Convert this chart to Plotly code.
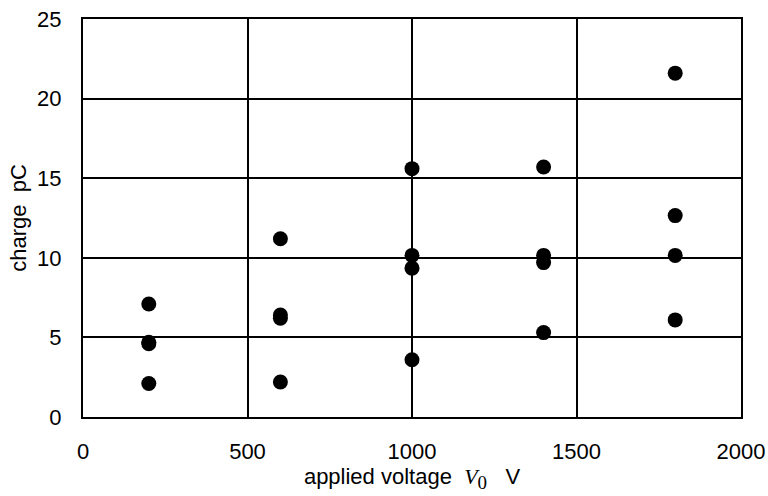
import plotly.graph_objects as go

voltage = [200, 200, 200, 200,
           600, 600, 600, 600,
           1000, 1000, 1000, 1000,
           1400, 1400, 1400, 1400,
           1800, 1800, 1800, 1800]
charge = [7.1, 4.7, 4.6, 2.1,
          11.2, 6.4, 6.2, 2.2,
          15.6, 10.15, 9.35, 3.6,
          15.7, 10.15, 9.7, 5.3,
          21.6, 12.65, 10.15, 6.1]

x_ticks = [0, 500, 1000, 1500, 2000]
y_ticks = [0, 5, 10, 15, 20, 25]

fig = go.Figure()
fig.add_trace(go.Scatter(
    x=voltage, y=charge, mode="markers",
    marker=dict(color="black", size=15, line=dict(width=0)),
    showlegend=False, hoverinfo="skip",
))

font = dict(family="Liberation Sans, Arial, sans-serif", size=22, color="black")

xtitle = ("applied voltage  "
          "<span style='font-family:Liberation Serif,Times New Roman,serif'>"
          "<i>V</i><sub><span style='font-size:19px'>0</span></sub></span>"
          "&nbsp;&nbsp;&nbsp;V")

fig.update_layout(
    width=768, height=496,
    margin=dict(l=83, r=27, t=19, b=79),
    paper_bgcolor="white", plot_bgcolor="white",
    font=font,
    xaxis=dict(
        range=[0, 2000], tickvals=x_ticks, automargin=False,
        showgrid=True, gridcolor="black", gridwidth=1.5,
        showline=True, linecolor="black", linewidth=2, mirror=True,
        zeroline=False, ticks="", ticklen=0, ticklabelstandoff=14,
        tickfont=font,
        title=dict(text=xtitle, standoff=1, font=font),
    ),
    yaxis=dict(
        range=[0, 25], tickvals=y_ticks, automargin=False,
        showgrid=True, gridcolor="black", gridwidth=1.5,
        showline=True, linecolor="black", linewidth=2, mirror=True,
        zeroline=False, ticks="", ticklen=0, ticklabelstandoff=15,
        tickfont=font,
        title=dict(text="charge  pC", standoff=4, font=font),
    ),
)

fig.write_html("out.html", config={"displayModeBar": False},
               post_script="document.body.style.margin='0px';")
